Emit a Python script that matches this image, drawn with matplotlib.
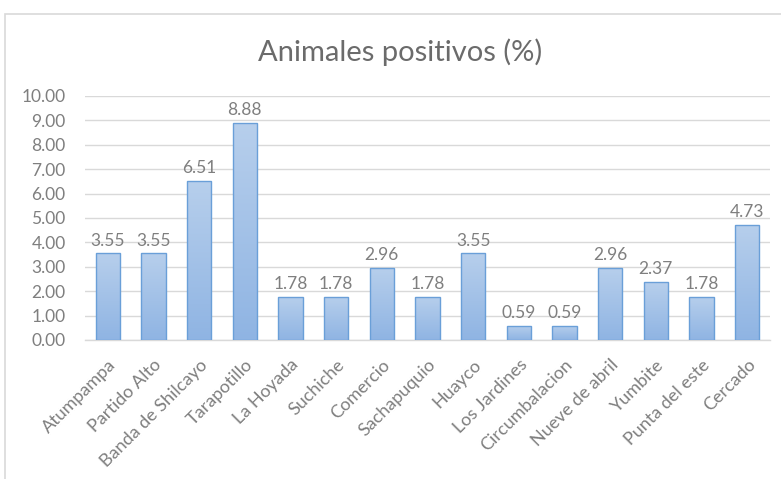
import matplotlib
matplotlib.use("Agg")
import matplotlib.pyplot as plt
import numpy as np
from matplotlib.patches import Rectangle
from matplotlib.colors import LinearSegmentedColormap

categories = ["Atumpampa", "Partido Alto", "Banda de Shilcayo", "Tarapotillo", "La Hoyada",
              "Suchiche", "Comercio", "Sachapuquio", "Huayco", "Los Jardines",
              "Circumbalacion", "Nueve de abril", "Yumbite", "Punta del este", "Cercado"]
values = [3.55, 3.55, 6.51, 8.88, 1.78, 1.78, 2.96, 1.78, 3.55, 0.59, 0.59, 2.96, 2.37, 1.78, 4.73]
yticks = [0, 1, 2, 3, 4, 5, 6, 7, 8, 9, 10]
title = "Animales positivos (%)"

plt.rcParams['font.family'] = ['Lato', 'DejaVu Sans']
W, H = 781, 479
fig = plt.figure(figsize=(W/100, H/100), dpi=100)
fig.patch.set_facecolor('white')
ax = fig.add_axes([85/W, 1-340/H, (770-85)/W, (340-96)/H])

x = np.arange(len(categories))
bars = ax.bar(x, values, width=0.53, color='#a9c4e8', edgecolor='#6a9fd8', linewidth=1.0, zorder=3)

grad = np.linspace(0, 1, 256).reshape(-1, 1)
cmap = LinearSegmentedColormap.from_list('g', ['#8fb4e3', '#b7cfec'])
for b in bars:
    x0, y0 = b.get_x(), b.get_y()
    w, h = b.get_width(), b.get_height()
    im = ax.imshow(grad, extent=[x0, x0 + w, y0, y0 + h], origin='lower', cmap=cmap,
                   aspect='auto', zorder=3.5)
    im.set_clip_path(b)
    b.set_facecolor('none')
    b.set_zorder(4)

for xi, v in zip(x, values):
    ax.text(xi, v + 0.2, f"{v:.2f}", ha='center', va='bottom', fontsize=12.5, color='#7f7f7f')

ax.set_xlim(-0.5, len(categories) - 0.5)
ax.set_ylim(0, 10)
ax.set_yticks(yticks)
ax.set_yticklabels([f"{t:.2f}" for t in yticks], fontsize=12.5, color='#7f7f7f')
ax.set_xticks(x)
ax.set_xticklabels(categories, rotation=45, ha='right', rotation_mode='anchor',
                   fontsize=13, color='#7f7f7f')
ax.tick_params(axis='both', length=0)
ax.tick_params(axis='y', pad=14)
ax.tick_params(axis='x', pad=12)
ax.grid(axis='y', color='#d9d9d9', linewidth=1, zorder=0)
for s in ['top', 'right', 'left']:
    ax.spines[s].set_visible(False)
ax.spines['bottom'].set_color('#d9d9d9')
ax.spines['bottom'].set_linewidth(1)

fig.text(400/W, 1-52/H, title, ha='center', va='center', fontsize=21, color='#6b6b6b')

fig.patches.append(Rectangle((5/W, -0.01), 1.0, 1-14/H + 0.01, transform=fig.transFigure,
                             fill=False, edgecolor='#d9d9d9', linewidth=1.2))

fig.savefig('out.png', dpi=100)
